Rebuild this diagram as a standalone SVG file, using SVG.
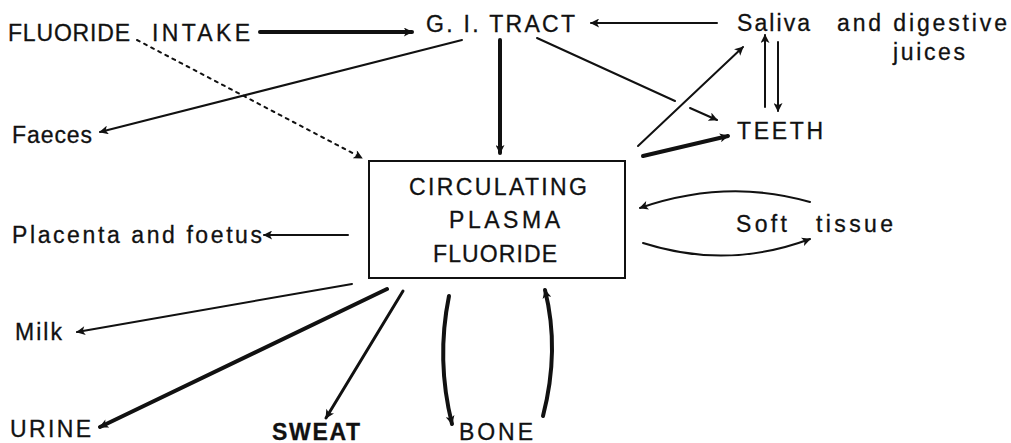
<svg xmlns="http://www.w3.org/2000/svg" width="1011" height="443" viewBox="0 0 1011 443">
<style>
text{font-family:"Liberation Sans",Arial,sans-serif;font-size:23px;fill:#111;stroke:#111;stroke-width:0.3}
.b{font-weight:bold}
.c{fill:none;stroke:#111;stroke-linecap:round}
.t2{stroke-width:2}
.t3{stroke-width:3}
.t4{stroke-width:4}
</style>
<defs>
<marker id="ah" viewBox="0 0 10 10" refX="9" refY="5" markerWidth="10" markerHeight="9" markerUnits="userSpaceOnUse" orient="auto">
<path d="M0,0 L10,5 L0,10 L2.5,5 Z" fill="#111"/>
</marker>
</defs>
<rect width="1011" height="443" fill="#fff"/>
<g id="connectors">
<line class="c t4" x1="260" y1="32" x2="412" y2="32" marker-end="url(#ah)"/>
<line class="c t2" x1="717" y1="23" x2="591" y2="23" marker-end="url(#ah)"/>
<line class="c t4" x1="500" y1="40" x2="500" y2="153" marker-end="url(#ah)"/>
<line class="c t2" x1="462" y1="40" x2="100" y2="132" marker-end="url(#ah)"/>
<line class="c t2" x1="137" y1="40" x2="362" y2="158" stroke-dasharray="3 5" marker-end="url(#ah)"/>
<line class="c t2" x1="537" y1="38" x2="675" y2="101"/>
<line class="c t2" x1="690" y1="108" x2="717" y2="120" marker-end="url(#ah)"/>
<line class="c t2" x1="638" y1="146" x2="743" y2="47" marker-end="url(#ah)"/>
<line class="c t4" x1="643" y1="156" x2="728" y2="136" marker-end="url(#ah)"/>
<line class="c t2" x1="765" y1="107" x2="765" y2="35" marker-end="url(#ah)"/>
<line class="c t2" x1="778" y1="42" x2="778" y2="111" marker-end="url(#ah)"/>
<path class="c t2" d="M810,202 Q727,178 640,208" marker-end="url(#ah)"/>
<path class="c t2" d="M643,243 Q727,270 810,239" marker-end="url(#ah)"/>
<line class="c t2" x1="348" y1="235" x2="264" y2="235" marker-end="url(#ah)"/>
<line class="c t2" x1="352" y1="284" x2="77" y2="332" marker-end="url(#ah)"/>
<line class="c t4" x1="387" y1="289" x2="100" y2="427" marker-end="url(#ah)"/>
<line class="c t3" x1="403" y1="291" x2="326" y2="418" marker-end="url(#ah)"/>
<path class="c t4" d="M449,296 Q436,360 452,424" marker-end="url(#ah)"/>
<path class="c t4" d="M543,416 Q560,350 545,290" marker-end="url(#ah)"/>
</g>
<g id="intake"><text x="8" y="41" textLength="122" lengthAdjust="spacing">FLUORIDE</text><text x="152" y="41" textLength="98" lengthAdjust="spacing">INTAKE</text></g>
<g id="gi"><text x="426" y="32" textLength="149" lengthAdjust="spacing">G. I. TRACT</text></g>
<g id="saliva"><text x="737" y="31" textLength="73" lengthAdjust="spacing">Saliva</text><text x="837" y="31" textLength="170" lengthAdjust="spacing">and digestive</text><text x="893" y="60" textLength="72" lengthAdjust="spacing">juices</text></g>
<g id="teeth"><text x="737" y="139" textLength="86" lengthAdjust="spacing">TEETH</text></g>
<g id="faeces"><text x="12" y="143" textLength="80" lengthAdjust="spacing">Faeces</text></g>
<g id="plasma">
<rect x="369" y="161" width="256" height="117" fill="none" stroke="#111" stroke-width="2"/>
<text x="409" y="195" textLength="178" lengthAdjust="spacing">CIRCULATING</text>
<text x="449" y="228" textLength="111" lengthAdjust="spacing">PLASMA</text>
<text x="433" y="262" textLength="124" lengthAdjust="spacing">FLUORIDE</text>
</g>
<g id="placenta"><text x="12" y="243" textLength="250" lengthAdjust="spacing">Placenta and foetus</text></g>
<g id="soft"><text x="736" y="232" textLength="51" lengthAdjust="spacing">Soft</text><text x="816" y="232" textLength="77" lengthAdjust="spacing">tissue</text></g>
<g id="milk"><text x="15" y="340" textLength="47" lengthAdjust="spacing">Milk</text></g>
<g id="urine"><text x="10" y="437" textLength="81" lengthAdjust="spacing">URINE</text></g>
<g id="sweat"><text class="b" x="272" y="440" textLength="88" lengthAdjust="spacing">SWEAT</text></g>
<g id="bone"><text x="459" y="440" textLength="74" lengthAdjust="spacing">BONE</text></g>
</svg>
